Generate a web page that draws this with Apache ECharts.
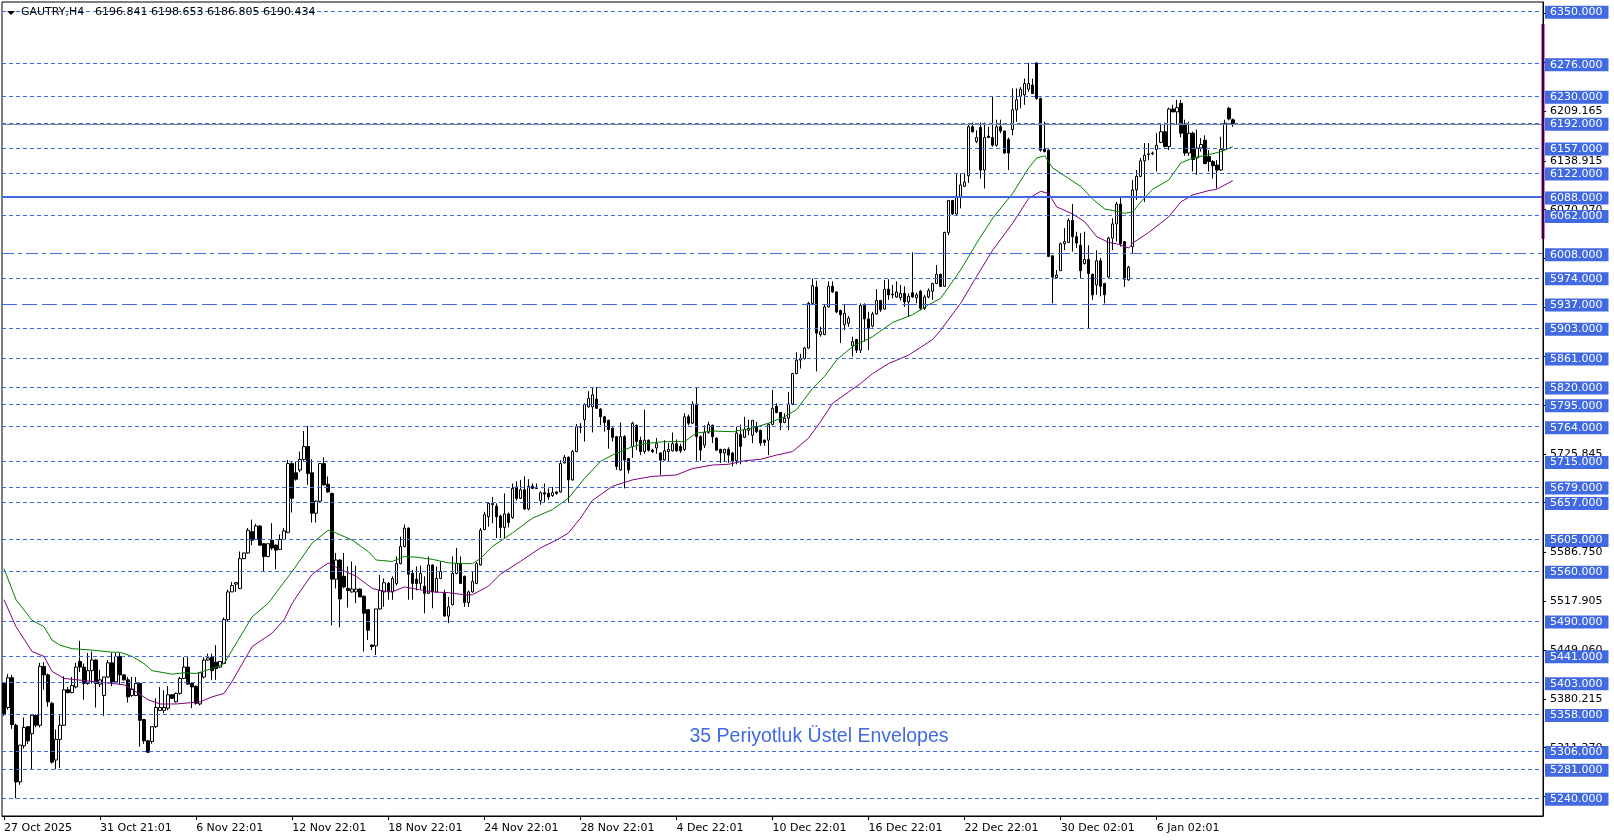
<!DOCTYPE html>
<html><head><meta charset="utf-8">
<script src="https://cdn.jsdelivr.net/npm/echarts@6/dist/echarts.min.js"></script>
<style>html,body{margin:0;padding:0;background:#fff}#c{width:1614px;height:840px}</style>
</head><body><div id="c"></div>
<script>
const symbolTitle = "GAUTRY,H4";
const titleValues = "6196.841 6198.653 6186.805 6190.434";
const indicatorText = "35 Periyotluk Üstel Envelopes";
const tickLabels = ["27 Oct 2025","31 Oct 21:01","6 Nov 22:01","12 Nov 22:01","18 Nov 22:01","24 Nov 22:01","28 Nov 22:01","4 Dec 22:01","10 Dec 22:01","16 Dec 22:01","22 Dec 22:01","30 Dec 02:01","6 Jan 02:01"];
const barsPerLabel = 24;
const slotCount = 385;

const opens = [5402,5368,5410,5343,5263,5314,5341,5331,5357,5343,5426,5414,5374,5294,5323,5343,5393,5389,5397,5433,
5425,5402,5420,5435,5401,5385,5411,5431,5404,5440,5414,5407,5385,5385,5402,5351,5321,5320,5341,5364,
5364,5367,5386,5376,5388,5409,5425,5402,5398,5373,5411,5435,5439,5432,5425,5430,5492,5531,5542,5536,
5578,5586,5616,5605,5624,5599,5581,5604,5597,5591,5605,5615,5712,5699,5703,5718,5736,5699,5642,5659,
5712,5683,5670,5549,5576,5553,5536,5531,5531,5535,5525,5506,5456,5455,5507,5531,5543,5531,5543,5571,
5595,5621,5557,5549,5543,5539,5529,5569,5531,5550,5529,5497,5513,5557,5571,5553,5516,5531,5543,5569,
5619,5637,5654,5652,5638,5622,5641,5636,5679,5663,5675,5648,5680,5678,5660,5671,5670,5667,5672,5672,
5713,5721,5689,5729,5763,5774,5792,5792,5803,5789,5778,5773,5762,5750,5703,5750,5719,5736,5766,5745,
5729,5745,5731,5734,5727,5717,5729,5730,5740,5736,5732,5778,5769,5796,5750,5738,5756,5766,5748,5732,
5727,5732,5727,5716,5753,5749,5759,5752,5764,5759,5745,5745,5767,5793,5784,5770,5776,5796,5839,5858,
5860,5875,5938,5961,5894,5894,5933,5962,5954,5928,5908,5910,5878,5887,5872,5935,5916,5906,5923,5942,
5930,5958,5951,5947,5946,5952,5940,5953,5946,5955,5931,5947,5955,5966,5979,5962,6038,6083,6064,6089,
6103,6118,6187,6166,6186,6126,6174,6172,6161,6187,6181,6169,6183,6211,6230,6232,6240,6246,6277,6227,
6155,6154,6005,5974,5984,6022,6024,6055,6032,6020,5994,6000,5979,5964,5998,5966,5975,6030,6050,6078,
6025,5971,6018,6098,6117,6139,6148,6149,6155,6165,6180,6159,6212,6208,6220,6191,6150,6178,6143,6157,
6168,6145,6138,6133,6126,6155,6213,6196.841];
const highs = [5404,5415,5414,5345,5315,5354,5342,5357,5358,5431,5432,5416,5376,5337,5357,5412,5397,5411,5431,5462,
5430,5445,5447,5436,5421,5411,5435,5445,5445,5445,5415,5411,5411,5411,5403,5352,5322,5341,5381,5397,
5392,5398,5387,5389,5411,5439,5439,5403,5399,5418,5439,5444,5444,5456,5433,5495,5534,5545,5545,5588,
5586,5621,5633,5627,5625,5600,5599,5628,5598,5612,5621,5717,5714,5715,5729,5758,5765,5718,5660,5712,
5721,5694,5671,5586,5577,5586,5567,5574,5568,5536,5526,5506,5457,5507,5555,5550,5545,5553,5581,5609,
5626,5622,5562,5567,5568,5553,5581,5570,5567,5574,5534,5524,5581,5593,5581,5554,5533,5560,5573,5621,
5644,5658,5665,5656,5640,5670,5643,5684,5687,5689,5694,5690,5684,5684,5673,5684,5677,5679,5673,5717,
5724,5722,5731,5768,5769,5797,5814,5820,5820,5790,5779,5774,5763,5751,5770,5752,5720,5771,5767,5750,
5788,5746,5733,5748,5728,5745,5741,5756,5746,5740,5783,5781,5800,5820,5752,5766,5771,5767,5749,5733,
5733,5735,5728,5764,5767,5778,5774,5773,5771,5760,5746,5769,5816,5797,5785,5783,5813,5840,5869,5867,
5876,5940,5973,5970,5905,5936,5969,5969,5955,5929,5936,5920,5891,5888,5938,5938,5926,5926,5958,5943,
5971,5972,5964,5969,5964,5962,5952,6010,5953,5957,5950,5959,5967,5992,5980,6039,6084,6084,6121,6121,
6122,6190,6193,6182,6193,6193,6187,6230,6197,6197,6182,6172,6241,6241,6243,6255,6277,6255,6278,6228,
6194,6155,6006,5985,6024,6044,6058,6078,6039,6037,6039,6020,5980,6013,6002,5967,6032,6058,6081,6089,
6025,5991,6112,6126,6143,6164,6164,6152,6178,6190,6193,6214,6218,6225,6225,6197,6194,6180,6183,6171,
6175,6154,6140,6140,6173,6197,6215,6198.653];
const lows = [5356,5365,5338,5240,5259,5310,5317,5280,5340,5340,5393,5369,5289,5281,5283,5342,5388,5388,5395,5418,
5379,5400,5402,5368,5397,5356,5410,5398,5403,5400,5406,5375,5383,5384,5313,5317,5304,5317,5339,5363,
5360,5364,5380,5375,5386,5408,5400,5367,5372,5371,5409,5434,5407,5407,5424,5430,5490,5531,5531,5535,
5577,5585,5597,5604,5596,5560,5580,5590,5563,5590,5604,5614,5643,5688,5700,5716,5682,5629,5629,5658,
5681,5671,5484,5536,5481,5536,5509,5530,5515,5524,5447,5463,5449,5442,5506,5510,5520,5520,5540,5570,
5594,5520,5520,5533,5535,5501,5528,5508,5530,5549,5496,5487,5512,5556,5542,5510,5510,5530,5542,5568,
5618,5623,5628,5607,5607,5607,5622,5634,5660,5662,5647,5646,5676,5676,5654,5658,5661,5665,5668,5671,
5712,5657,5688,5728,5755,5743,5791,5756,5789,5766,5757,5733,5743,5703,5702,5677,5698,5720,5731,5724,
5726,5729,5727,5726,5696,5716,5715,5729,5729,5727,5730,5766,5768,5716,5716,5734,5754,5741,5731,5713,
5715,5713,5708,5711,5711,5748,5752,5741,5755,5737,5737,5724,5766,5783,5759,5769,5759,5795,5838,5846,
5859,5874,5937,5842,5891,5893,5932,5953,5924,5882,5900,5905,5863,5868,5868,5884,5872,5904,5922,5926,
5929,5943,5945,5946,5942,5933,5919,5946,5938,5928,5929,5945,5943,5965,5961,5961,6034,6063,6063,6072,
6102,6108,6179,6164,6114,6100,6171,6159,6159,6178,6149,6126,6175,6194,6213,6218,6236,6234,6225,6152,
6151,6004,5938,5973,5984,6013,6023,6011,6016,5973,5993,5903,5943,5950,5948,5938,5974,6013,6025,6018,
5961,5970,6008,6084,6116,6081,6140,6147,6124,6164,6158,6154,6208,6191,6172,6146,6146,6124,6119,6152,
6135,6124,6114,6100,6125,6155,6196,6186.805];
const closes = [5358,5410,5344,5263,5315,5340,5321,5357,5343,5426,5414,5376,5291,5323,5343,5393,5389,5399,5425,5425,
5402,5420,5435,5402,5407,5411,5431,5404,5440,5414,5407,5383,5394,5402,5350,5321,5305,5341,5368,5368,
5368,5386,5381,5388,5409,5425,5401,5397,5374,5417,5435,5438,5420,5423,5433,5492,5531,5540,5544,5578,
5586,5618,5604,5624,5597,5581,5599,5593,5590,5605,5617,5712,5663,5690,5718,5736,5698,5642,5659,5712,
5682,5672,5549,5576,5521,5538,5533,5535,5535,5524,5501,5477,5454,5507,5533,5544,5531,5550,5571,5595,
5621,5556,5543,5543,5557,5529,5569,5531,5550,5560,5497,5510,5557,5571,5543,5516,5531,5546,5571,5618,
5640,5656,5656,5637,5622,5641,5629,5677,5663,5675,5648,5680,5677,5677,5671,5669,5665,5671,5670,5712,
5721,5689,5729,5764,5764,5795,5804,5809,5790,5778,5770,5760,5749,5708,5750,5717,5703,5769,5743,5729,
5745,5731,5729,5740,5717,5730,5732,5740,5730,5730,5778,5769,5796,5750,5731,5756,5767,5750,5731,5727,
5732,5724,5715,5755,5736,5760,5762,5773,5757,5741,5742,5767,5790,5784,5770,5776,5796,5839,5858,5860,
5875,5938,5963,5896,5898,5933,5962,5954,5926,5922,5924,5917,5884,5872,5935,5916,5903,5923,5942,5929,
5958,5950,5950,5954,5952,5940,5948,5947,5950,5931,5947,5956,5966,5979,5962,6038,6083,6064,6089,6105,
6109,6187,6180,6172,6126,6172,6172,6161,6187,6181,6150,6150,6211,6225,6240,6248,6248,6234,6227,6154,
6152,6004,5975,5978,6022,6025,6055,6032,6023,5984,6000,5980,5950,5998,5962,5950,6030,6050,6078,6022,
5972,5989,6098,6117,6139,6147,6149,6150,6161,6180,6159,6212,6208,6214,6178,6150,6178,6141,6157,6162,
6135,6138,6132,6126,6155,6192,6198,6190.434];

const upperEnvelope = [[0,5564],[3,5520],[7,5491],[10,5482],[12,5463],[14,5456],[17,5451],[22,5449],[27,5446],[29,5446],[32,5440],[35,5430],[37,5420],[42,5415],[45,5417],[48,5416],[52,5423],[55,5430],[57,5449],[62,5496],[66,5515],[70,5545],[72,5560],[74,5576],[77,5600],[81,5618],[83,5614],[87,5604],[91,5588],[93,5576],[97,5574],[100,5581],[103,5580],[107,5577],[111,5572],[114,5571],[117,5571],[119,5578],[122,5595],[127,5614],[132,5635],[137,5647],[141,5663],[145,5691],[149,5715],[152,5724],[157,5736],[160,5740],[165,5743],[170,5743],[173,5755],[177,5758],[182,5757],[187,5762],[191,5769],[195,5778],[198,5788],[202,5818],[205,5835],[208,5858],[212,5877],[217,5891],[222,5911],[227,5922],[231,5936],[234,5945],[239,5985],[243,6023],[247,6058],[252,6093],[256,6129],[258,6143],[260,6146],[262,6129],[266,6114],[269,6103],[272,6085],[275,6071],[277,6069],[280,6065],[282,6067],[284,6081],[287,6099],[291,6112],[294,6136],[297,6143],[302,6149],[304,6152],[307,6159]];
const lowerEnvelope = [[0,5520],[3,5482],[7,5447],[10,5440],[12,5419],[15,5409],[20,5406],[27,5402],[30,5400],[33,5390],[36,5379],[39,5373],[43,5373],[49,5376],[52,5383],[55,5388],[57,5405],[62,5454],[67,5473],[70,5492],[72,5515],[74,5532],[77,5556],[81,5572],[84,5563],[88,5553],[92,5536],[94,5533],[97,5531],[100,5538],[103,5535],[107,5531],[111,5530],[115,5527],[117,5527],[121,5539],[124,5556],[129,5574],[134,5593],[138,5604],[141,5614],[144,5635],[147,5660],[152,5680],[157,5689],[162,5694],[168,5696],[172,5705],[177,5710],[181,5711],[185,5716],[189,5718],[193,5724],[197,5729],[201,5748],[204,5771],[207,5797],[211,5813],[214,5825],[217,5839],[221,5853],[226,5865],[232,5887],[234,5900],[239,5938],[243,5976],[247,6013],[252,6051],[256,6086],[259,6096],[261,6093],[263,6074],[267,6064],[270,6053],[273,6032],[276,6024],[278,6022],[281,6016],[282,6023],[286,6038],[291,6060],[294,6081],[297,6091],[301,6097],[303,6099],[307,6111]];

const levels = [6350,6276,6230,6192,6157,6122,6088,6062,6008,5974,5937,5903,5861,5820,5795,5764,5715,5679,5657,5605,5560,5490,5441,5403,5358,5306,5281,5240];
const solidLevels = [6088];
const dashDotLevels = [6008];
const longDashLevels = [5937];
const bidPrice = 6190.434;
const scaleLabels = [6209.165,6138.915,6070.070,6001.225,5725.845,5586.750,5517.905,5449.060,5380.215,5311.370];
const scaleTicks = [6346.9,6277.4,6209.165,6138.915,6070.070,6001.225,5932.380,5863.535,5794.690,5725.845,5657.000,5586.750,5517.905,5449.060,5380.215,5311.370,5242.525];
const rangeBar = [6332, 6029];
const yMin = 5215, yMax = 6363;

const W = 1614, H = 840;
const G = {left: 2, right: 71, top: 2, bottom: 24};
const FONT = 'DejaVu Sans';
const BLUE = '#4169E1';

const cats = [];
for (let i = 0; i < slotCount; i++) {
  const k = i / barsPerLabel;
  cats.push(i % barsPerLabel === 0 && k < tickLabels.length ? tickLabels[k] : '');
}
const showTick = (idx) => idx % barsPerLabel === 0 && idx / barsPerLabel < tickLabels.length;
const candles = opens.map((o, i) => [o, closes[i], lows[i], highs[i]]);

function levelStyle(v) {
  if (solidLevels.includes(v)) return {color: BLUE, type: 'solid', width: 2};
  if (dashDotLevels.includes(v)) return {color: BLUE, type: [12, 4, 4, 4], width: 1};
  if (longDashLevels.includes(v)) return {color: BLUE, type: [15, 5], width: 1};
  return {color: BLUE, type: [4, 3], width: 1};
}
const markData = [{yAxis: bidPrice, lineStyle: {color: '#778899', type: 'solid', width: 1}, label: {show: false}}]
  .concat(levels.map(v => ({yAxis: v, lineStyle: levelStyle(v)})));

const chart = echarts.init(document.getElementById('c'), null, {renderer: 'canvas'});
chart.setOption({
  animation: false,
  backgroundColor: '#fff',
  grid: {left: G.left, right: G.right, top: G.top, bottom: G.bottom, show: true, borderColor: '#000', borderWidth: 1, backgroundColor: 'transparent'},
  xAxis: {
    type: 'category', data: cats, boundaryGap: true,
    axisLine: {show: true, lineStyle: {color: '#000', width: 1}},
    axisTick: {show: true, alignWithLabel: true, interval: showTick, length: 4, lineStyle: {color: '#000'}},
    axisLabel: {interval: showTick, align: 'left', margin: 7, color: '#000', fontFamily: FONT, fontSize: 11},
    splitLine: {show: false}
  },
  yAxis: {
    type: 'value', position: 'right', min: yMin, max: yMax, scale: true,
    axisLine: {show: true, lineStyle: {color: '#000', width: 1}},
    axisTick: {show: true, inside: false, length: 3, customValues: scaleTicks, lineStyle: {color: '#000'}},
    axisLabel: {show: true, customValues: scaleLabels, margin: 7, color: '#000', fontFamily: FONT, fontSize: 11,
      formatter: v => Number(v).toFixed(3)},
    splitLine: {show: false}
  },
  series: [
    {
      type: 'candlestick', data: candles, barWidth: 3,
      itemStyle: {color: '#fff', color0: '#000', borderColor: '#000', borderColor0: '#000', borderColorDoji: '#000', borderWidth: 1},
      markLine: {
        silent: true, symbol: ['none', 'none'], animation: false,
        label: {show: true, position: 'end', distance: 2, color: '#fff', backgroundColor: BLUE,
          fontFamily: FONT, fontSize: 11, lineHeight: 11, padding: [1, 6, 1, 5], offset: [0, 1],
          formatter: p => Number(p.value).toFixed(3)},
        data: markData
      }
    },
    {type: 'line', data: upperEnvelope, showSymbol: false, symbol: 'none', silent: true,
      lineStyle: {color: '#008000', width: 1}, z: 3},
    {type: 'line', data: lowerEnvelope, showSymbol: false, symbol: 'none', silent: true,
      lineStyle: {color: '#800080', width: 1}, z: 3}
  ]
});

const rightX = W - G.right;
const y1 = chart.convertToPixel({yAxisIndex: 0}, rangeBar[0]);
const y2 = chart.convertToPixel({yAxisIndex: 0}, rangeBar[1]);
chart.setOption({
  graphic: [
    {type: 'polygon', shape: {points: [[7, 11], [15, 11], [11, 15]]}, style: {fill: '#000'}, z: 100},
    {type: 'text', left: 21, top: 7, style: {text: symbolTitle, font: '11px "DejaVu Sans"', fill: '#000'}, z: 100},
    {type: 'text', left: 95, top: 7, style: {text: titleValues, font: '11px "DejaVu Sans"', fill: '#000'}, z: 100},
    {type: 'text', x: 819, y: 737, style: {text: indicatorText, font: '19.5px "Liberation Sans"', fill: BLUE, align: 'center', verticalAlign: 'middle'}, z: 100},
    {type: 'line', shape: {x1: rightX, y1: y1, x2: rightX, y2: y2}, style: {stroke: '#800080', lineWidth: 3}, z: 100},
    {type: 'line', shape: {x1: rightX, y1: y1, x2: rightX, y2: y2}, style: {stroke: '#000', lineWidth: 1}, z: 101}
  ]
});
</script></body></html>
